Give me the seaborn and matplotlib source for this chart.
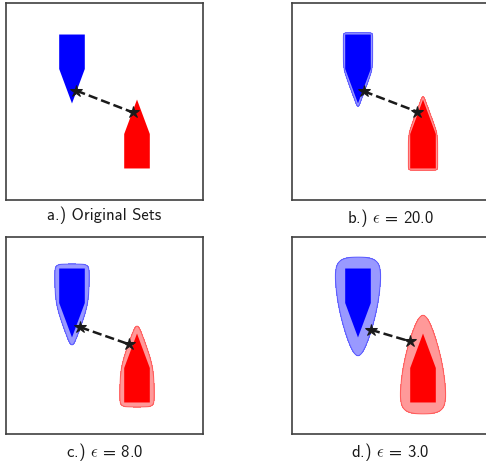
import numpy as np
import seaborn as sns
from matplotlib import pyplot as plt

# polygon vertices (data units, axes 0..10)
blue_x = [2.7, 4.0, 4.0, 3.35, 2.7]
blue_y = [8.4, 8.4, 6.65, 4.9, 6.65]
red_x = [6.0, 7.3, 7.3, 6.65, 6.0]
red_y = [1.6, 1.6, 3.35, 5.1, 3.35]

captions = ['a.) Original Sets', r'b.) $\epsilon$ = 20.0',
            r'c.) $\epsilon$ = 8.0', r'd.) $\epsilon$ = 3.0']
eps_vals = [None, 20.0, 8.0, 3.0]
unit = 0.87  # plot units per problem unit

# closest points (blue end, red end)
near_bx = [3.57, 3.64, 3.77, 4.0]
near_by = [5.55, 5.52, 5.42, 5.29]
near_rx = [6.43, 6.36, 6.23, 6.0]
near_ry = [4.45, 4.48, 4.56, 4.7]


def smooth_set(px, py, eps, X, Y):
    # log-sum-exp outer approximation of the polygon: sum exp(eps*s_i) <= m
    px, py = np.asarray(px), np.asarray(py)
    dx = np.roll(px, -1) - px
    dy = np.roll(py, -1) - py
    area = np.sum(px * np.roll(py, -1) - np.roll(px, -1) * py)
    sgn = 1 if area > 0 else -1
    g = np.zeros_like(X)
    for k in range(len(px)):
        nx, ny = sgn * dy[k], -sgn * dx[k]
        ln = np.hypot(nx, ny)
        s = (nx * (X - px[k]) + ny * (Y - py[k])) / ln
        g += np.exp(eps * s)
    return g - len(px)


sns.set_theme(style='white')
plt.rcParams['font.family'] = ['cmss10', 'DejaVu Sans']
plt.rcParams['mathtext.fontset'] = 'cm'
plt.rcParams['axes.unicode_minus'] = False

xs = np.linspace(0, 10, 500)
X, Y = np.meshgrid(xs, xs)

fig = plt.figure(figsize=(4.86, 4.64), dpi=100)
W, H = 486, 464
boxes = [(6, 4), (292, 4), (6, 238), (292, 238)]

for i, (x0, y0) in enumerate(boxes):
    ax = fig.add_axes([x0 / W, (H - y0 - 197) / H, 197 / W, 197 / H])
    if eps_vals[i]:
        e = eps_vals[i] * unit
        for px, py, c in [(blue_x, blue_y, 'blue'), (red_x, red_y, 'red')]:
            g = smooth_set(px, py, e, X, Y)
            ax.contourf(X, Y, g, levels=[g.min() - 1, 0], colors=c, alpha=0.4)
            ax.contour(X, Y, g, levels=[0], colors=c, alpha=0.4, linewidths=0.8)
    ax.fill(blue_x, blue_y, color='blue', lw=0)
    ax.fill(red_x, red_y, color='red', lw=0)
    sns.lineplot(x=[near_bx[i], near_rx[i]], y=[near_by[i], near_ry[i]], ax=ax,
                 color='k', linestyle='--', lw=1.8, marker='*', markersize=9,
                 markeredgecolor='k', sort=False)
    ax.set_xlim(0, 10)
    ax.set_ylim(0, 10)
    ax.set_xticks([])
    ax.set_yticks([])
    for sp in ax.spines.values():
        sp.set_color('0.25')
        sp.set_linewidth(1.2)
    ax.set_xlabel(captions[i], fontsize=12, labelpad=4, color='0.1')

fig.savefig('out.png', dpi=100)
